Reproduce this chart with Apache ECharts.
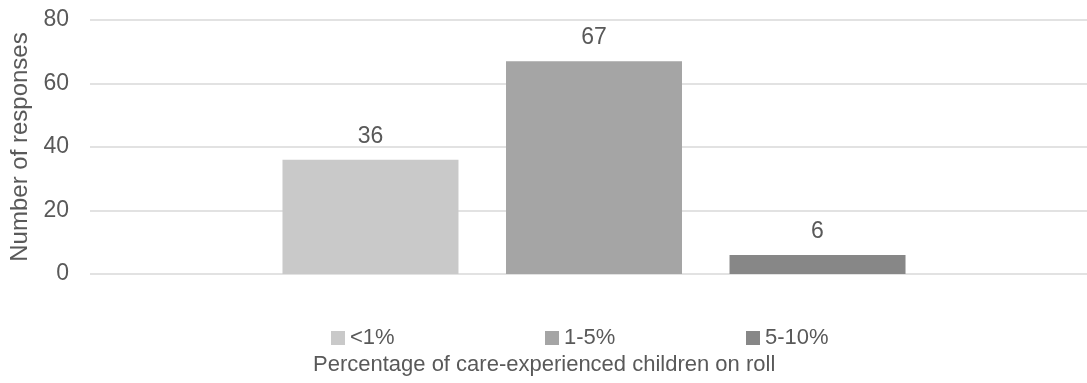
<!DOCTYPE html>
<html>
<head>
<meta charset="utf-8">
<script src="https://cdn.jsdelivr.net/npm/echarts@6/dist/echarts.min.js"></script>
<style>
html,body{margin:0;padding:0;background:#fff;}
#chart{width:1087px;height:383px;}
</style>
</head>
<body>
<div id="chart"></div>
<script>
var categories = [''];
var seriesNames = ['<1%', '1-5%', '5-10%'];
var seriesValues = [[36], [67], [6]];
var seriesColors = ['#C9C9C9', '#A5A5A5', '#878787'];
var yTicks = [0, 20, 40, 60, 80];

var FONT = 'Liberation Sans, Arial, sans-serif';
var TXT = '#595959';

var chart = echarts.init(document.getElementById('chart'));
var legendLefts = [331, 545, 746];
var yMin = yTicks[0], yMax = yTicks[yTicks.length - 1], yStep = yTicks[1] - yTicks[0];

var series = seriesNames.map(function (n, i) {
  return {
    name: n,
    type: 'bar',
    xAxisIndex: 1, yAxisIndex: 1,
    data: seriesValues[i],
    barWidth: 176,
    barGap: '27%',
    itemStyle: { color: seriesColors[i] },
    label: {
      show: true, position: 'top', distance: 12,
      color: TXT, fontFamily: FONT, fontSize: 23
    },
    emphasis: { disabled: true }
  };
});

chart.setOption({
  animation: false,
  grid: [
    { left: 90, top: 20, right: 0, height: 254, containLabel: false },
    { left: 101, top: 20, right: 0, height: 254, containLabel: false }
  ],
  legend: seriesNames.map(function (n, i) {
    return {
      data: [n], left: legendLefts[i], top: 327, padding: 0,
      itemWidth: 14, itemHeight: 14, itemGap: 3,
      icon: 'rect',
      textStyle: { color: TXT, fontFamily: FONT, fontSize: 22 },
      selectedMode: false
    };
  }),
  title: {
    text: 'Percentage of care-experienced children on roll',
    left: 313, top: 354, padding: 0,
    textStyle: { color: TXT, fontFamily: FONT, fontSize: 22, fontWeight: 'normal' }
  },
  xAxis: [
    {
      gridIndex: 0, type: 'category', data: categories,
      axisLine: { show: false }, axisTick: { show: false }, axisLabel: { show: false }
    },
    {
      gridIndex: 1, type: 'category', data: categories,
      axisLine: { show: false }, axisTick: { show: false }, axisLabel: { show: false }
    }
  ],
  yAxis: [
    {
      gridIndex: 0, type: 'value', min: yMin, max: yMax, interval: yStep,
      name: 'Number of responses', nameLocation: 'middle', nameGap: 56,
      nameTextStyle: { color: TXT, fontFamily: FONT, fontSize: 24 },
      axisLine: { show: false }, axisTick: { show: false },
      axisLabel: { color: TXT, fontFamily: FONT, fontSize: 23, margin: 21 },
      splitLine: { lineStyle: { color: '#D9D9D9', width: 1.5 } }
    },
    {
      gridIndex: 1, type: 'value', min: yMin, max: yMax, interval: yStep,
      axisLine: { show: false }, axisTick: { show: false }, axisLabel: { show: false },
      splitLine: { show: false }
    }
  ],
  series: series
});
</script>
</body>
</html>
